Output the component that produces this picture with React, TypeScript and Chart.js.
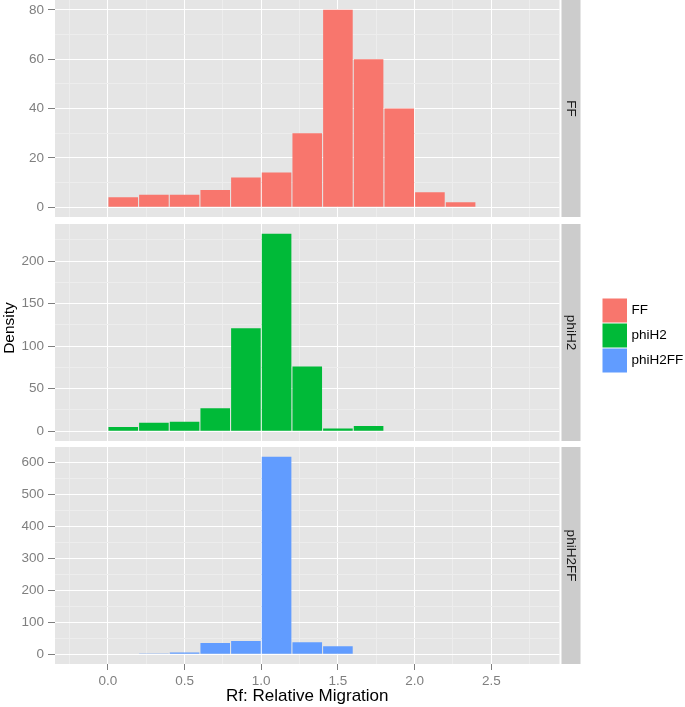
import React, { useEffect, useRef } from 'react';
import { Chart, registerables } from 'chart.js';

Chart.register(...registerables);

// ---------- data ----------
const binStarts = [0.0, 0.2, 0.4, 0.6, 0.8, 1.0, 1.2, 1.4, 1.6, 1.8, 2.0, 2.2];
const binWidth = 0.2;
const ffValues = [4, 5, 5, 7, 12, 14, 30, 80, 60, 40, 6, 2];
const phiH2Values = [5, 10, 11, 27, 121, 232, 76, 3, 6, 0, 0, 0];
const phiH2FFValues = [0, 2, 5, 35, 41, 617, 37, 25, 0, 0, 0, 0];

const seriesNames = ['FF', 'phiH2', 'phiH2FF'];
const seriesColors = ['#F8766D', '#00BA38', '#619CFF'];

const xMajorTicks = [0, 0.5, 1.0, 1.5, 2.0, 2.5];
const xMinorTicks = [-0.25, 0.25, 0.75, 1.25, 1.75, 2.25, 2.75];
const xMin = -0.345;
const xMax = 2.945;

const ffMajorTicks = [0, 20, 40, 60, 80];
const ffMinorTicks = [10, 30, 50, 70];
const phiH2MajorTicks = [0, 50, 100, 150, 200];
const phiH2MinorTicks = [25, 75, 125, 175, 225];
const phiH2FFMajorTicks = [0, 100, 200, 300, 400, 500, 600];
const phiH2FFMinorTicks = [50, 150, 250, 350, 450, 550];

const xTitle = 'Rf: Relative Migration';
const yTitle = 'Density';

// ---------- layout ----------
const W = 685;
const H = 707;
const PLOT_LEFT = 55;
const PLOT_RIGHT = 559.5;
const PANEL_H = 217;
const PANEL_TOPS = [0, 224, 447];
const STRIP_X = 561.5;
const STRIP_W = 19;
const FONT = '"Liberation Sans", Arial, Helvetica, sans-serif';

Chart.defaults.font.family = FONT;

const near = (list: number[], v: any) =>
  typeof v === 'number' && list.some((m) => Math.abs(m - v) < 1e-9);

const zeroPad = (s: any) => {
  s.paddingTop = 0;
  s.paddingBottom = 0;
  s.paddingLeft = 0;
  s.paddingRight = 0;
};

function makePlugin(label: string, drawExtras: boolean) {
  return {
    id: 'facetPanel',
    beforeDraw(chart: any) {
      const { ctx, chartArea: a } = chart;
      ctx.save();
      ctx.fillStyle = '#E5E5E5';
      ctx.fillRect(a.left, a.top, a.right - a.left, a.bottom - a.top);
      ctx.restore();
    },
    afterDraw(chart: any) {
      const { ctx, chartArea: a } = chart;
      ctx.save();
      ctx.fillStyle = '#CCCCCC';
      ctx.fillRect(STRIP_X, a.top, STRIP_W, a.bottom - a.top);
      ctx.translate(STRIP_X + STRIP_W / 2, (a.top + a.bottom) / 2);
      ctx.rotate(Math.PI / 2);
      ctx.fillStyle = '#1A1A1A';
      ctx.font = `13.5px ${FONT}`;
      ctx.textAlign = 'center';
      ctx.textBaseline = 'middle';
      ctx.fillText(label, 0, 0);
      ctx.restore();

      if (drawExtras) {
        const top = PANEL_TOPS[1];
        ctx.save();
        ctx.translate(10, 328 - top);
        ctx.rotate(-Math.PI / 2);
        ctx.fillStyle = '#000000';
        ctx.font = `15.5px ${FONT}`;
        ctx.textAlign = 'center';
        ctx.textBaseline = 'middle';
        ctx.fillText(yTitle, 0, 0);
        ctx.restore();
        ctx.save();
        for (let i = 0; i < seriesNames.length; i++) {
          const ky = 298.5 - top + i * 25;
          ctx.fillStyle = seriesColors[i];
          ctx.fillRect(602.5, ky, 24.5, 24);
          ctx.fillStyle = '#000000';
          ctx.font = `13.5px ${FONT}`;
          ctx.textAlign = 'left';
          ctx.textBaseline = 'middle';
          ctx.fillText(seriesNames[i], 631.5, ky + 12);
        }
        ctx.restore();
      }
    },
  };
}

function buildConfig(
  idx: number,
  values: number[],
  yMajor: number[],
  yMinor: number[],
  showX: boolean,
  xAxisHeight: number
): any {
  const vmax = Math.max(...values);
  const xTicks = [...xMajorTicks, ...xMinorTicks].sort((a, b) => a - b);
  const yTicks = [...yMajor, ...yMinor].sort((a, b) => a - b);
  return {
    type: 'bar',
    data: {
      datasets: [
        {
          label: seriesNames[idx],
          data: binStarts.map((s, k) => ({ x: s + binWidth / 2, y: values[k] })),
          backgroundColor: seriesColors[idx],
          borderWidth: 0,
          barPercentage: 0.965,
          categoryPercentage: 1,
        },
      ],
    },
    options: {
      responsive: false,
      animation: false,
      devicePixelRatio: 1,
      layout: { padding: { left: 0, right: W - PLOT_RIGHT, top: 0, bottom: 0 } },
      plugins: { legend: { display: false }, tooltip: { enabled: false } },
      scales: {
        x: {
          type: 'linear',
          min: xMin,
          max: xMax,
          offset: false,
          afterBuildTicks: (s: any) => {
            s.ticks = xTicks.map((v) => ({ value: v }));
          },
          afterFit: (s: any) => {
            s.height = xAxisHeight;
            zeroPad(s);
          },
          border: { display: false },
          grid: {
            offset: false,
            color: (c: any) => (near(xMajorTicks, c.tick?.value) ? '#FFFFFF' : '#EDEDED'),
            lineWidth: 1,
            drawTicks: showX,
            tickLength: 6,
            tickWidth: 1,
            tickColor: (c: any) => (near(xMajorTicks, c.tick?.value) ? '#7F7F7F' : 'rgba(0,0,0,0)'),
          },
          ticks: {
            display: showX,
            autoSkip: false,
            maxRotation: 0,
            padding: 3,
            color: '#7F7F7F',
            font: { size: 13.5 },
            callback: (v: any) => (near(xMajorTicks, v) ? Number(v).toFixed(1) : ''),
          },
          title: {
            display: showX,
            text: xTitle,
            color: '#000000',
            font: { size: 17 },
            padding: { top: 0, bottom: 0 },
          },
        },
        y: {
          type: 'linear',
          min: -0.05 * vmax,
          max: 1.05 * vmax,
          afterBuildTicks: (s: any) => {
            s.ticks = yTicks.map((v) => ({ value: v }));
          },
          afterFit: (s: any) => {
            s.width = PLOT_LEFT;
            zeroPad(s);
          },
          border: { display: false },
          grid: {
            color: (c: any) => (near(yMajor, c.tick?.value) ? '#FFFFFF' : '#EDEDED'),
            lineWidth: 1,
            drawTicks: true,
            tickLength: 7,
            tickWidth: 1,
            tickColor: (c: any) => (near(yMajor, c.tick?.value) ? '#7F7F7F' : 'rgba(0,0,0,0)'),
          },
          ticks: {
            autoSkip: false,
            padding: 4,
            color: '#7F7F7F',
            font: { size: 13.5 },
            callback: (v: any) => (near(yMajor, v) ? String(v) : ''),
          },
        },
      },
    },
    plugins: [makePlugin(seriesNames[idx], idx === 1)],
  };
}

function Panel(props: { idx: number; values: number[]; yMajor: number[]; yMinor: number[]; bottom: boolean }) {
  const ref = useRef<HTMLCanvasElement>(null);
  const top = PANEL_TOPS[props.idx];
  const height = props.bottom ? H - top : PANEL_H;
  useEffect(() => {
    if (!ref.current) return;
    const chart = new Chart(
      ref.current,
      buildConfig(props.idx, props.values, props.yMajor, props.yMinor, props.bottom, props.bottom ? H - top - PANEL_H : 0)
    );
    return () => chart.destroy();
  }, []);
  return (
    <canvas
      ref={ref}
      width={W}
      height={height}
      style={{ position: 'absolute', left: 0, top, width: W, height }}
    />
  );
}

export default function App() {
  return (
    <div style={{ position: 'absolute', left: 0, top: 0, width: W, height: H, background: '#FFFFFF', overflow: 'hidden' }}>
      <Panel idx={0} values={ffValues} yMajor={ffMajorTicks} yMinor={ffMinorTicks} bottom={false} />
      <Panel idx={1} values={phiH2Values} yMajor={phiH2MajorTicks} yMinor={phiH2MinorTicks} bottom={false} />
      <Panel idx={2} values={phiH2FFValues} yMajor={phiH2FFMajorTicks} yMinor={phiH2FFMinorTicks} bottom={true} />
    </div>
  );
}
